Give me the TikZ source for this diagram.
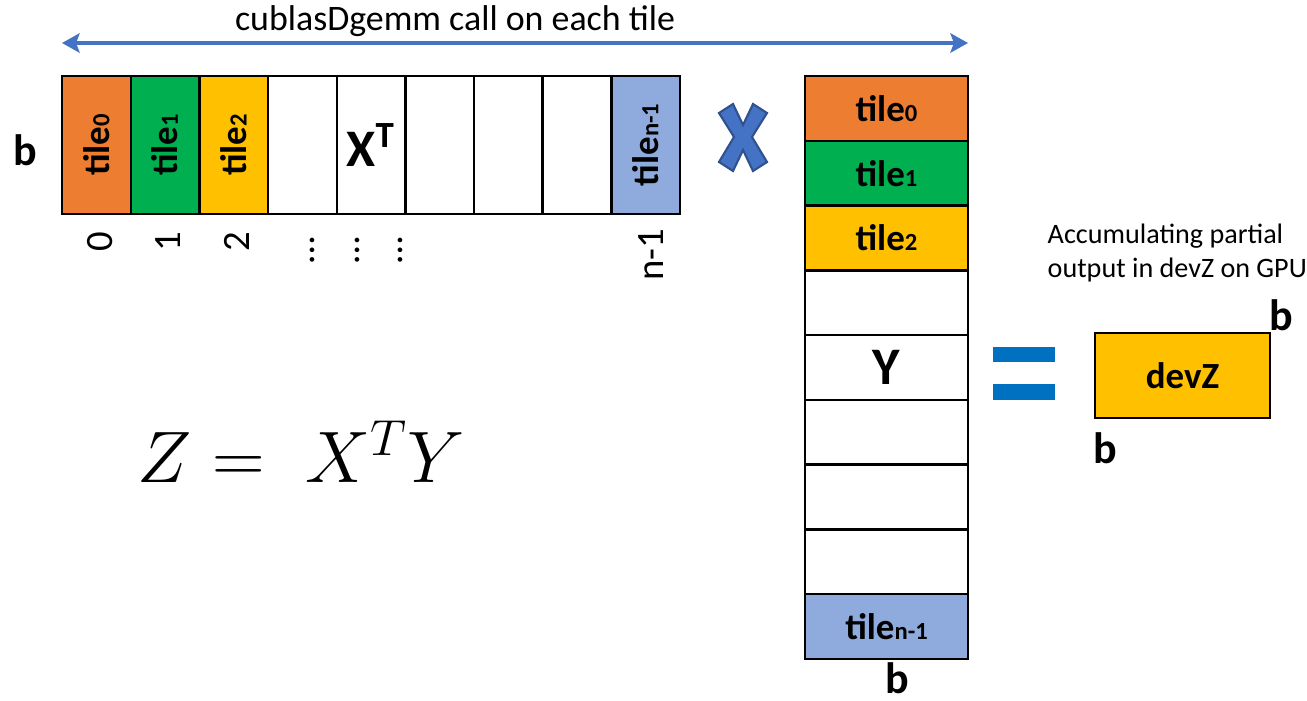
\documentclass[tikz,border=0pt]{standalone}
\usepackage{fontspec}
\setmainfont{Carlito}
\usetikzlibrary{arrows.meta,positioning}

\definecolor{tileorange}{HTML}{ED7D31}
\definecolor{tilegreen}{HTML}{00B050}
\definecolor{tilegold}{HTML}{FFC000}
\definecolor{tileblue}{HTML}{8FAADC}
\definecolor{arrowblue}{HTML}{4472C4}
\definecolor{crossedge}{HTML}{2F528F}
\definecolor{eqblue}{HTML}{0070C0}

% small tile index sitting on the baseline
\newcommand{\tidx}[1]{{\fontsize{7}{8}\selectfont #1}}

\begin{document}
\begin{tikzpicture}[x=0.01cm,y=-0.01cm,
  colcell/.style={draw,line width=0.7pt,minimum width=0.686cm,minimum height=1.38cm,
    inner sep=0pt,outer sep=0pt},
  rowcell/.style={draw,line width=0.7pt,minimum width=1.63cm,minimum height=0.647cm,
    inner sep=0pt,outer sep=0pt},
  tilefont/.style={font=\fontsize{10.5}{12}\selectfont\bfseries},
  bigfont/.style={font=\fontsize{15}{18}\selectfont\bfseries},
  sizelab/.style={font=\fontsize{12.5}{15}\selectfont\bfseries,inner sep=0pt},
  idxlab/.style={font=\fontsize{11}{13}\selectfont,rotate=90,inner sep=0pt},
  node distance=0pt,>={Stealth[length=5pt,width=5.5pt,inset=1pt]}]
\useasboundingbox (0,0) rectangle (1307,700);

% span of the tile loop
\coordinate (spanL) at (62,43);
\coordinate (spanR) at (968,43);
\draw[<->,draw=arrowblue,line width=1.3pt] (spanL) -- (spanR);
\node[font=\fontsize{10.2}{12}\selectfont] (calltxt) at (455,21) {cublasDgemm call on each tile};

% X^T split into column tiles
\node[colcell,fill=tileorange,tilefont] (xt0) at (96.5,145) {\rotatebox{90}{tile\tidx{0}}};
\node[colcell,fill=tilegreen,tilefont,right=of xt0] (xt1) {\rotatebox{90}{tile\tidx{1}}};
\node[colcell,fill=tilegold,tilefont,right=of xt1] (xt2) {\rotatebox{90}{tile\tidx{2}}};
\node[colcell,right=of xt2] (xt3) {};
\node[colcell,bigfont,right=of xt3] (xt4) {X\textsuperscript{T}};
\node[colcell,right=of xt4] (xt5) {};
\node[colcell,right=of xt5] (xt6) {};
\node[colcell,right=of xt6] (xt7) {};
\node[colcell,fill=tileblue,tilefont,right=of xt7] (xt8) {\rotatebox{90}{tile\tidx{n-1}}};
\node[sizelab] (bx) at (25,150) {b};

% tile indices
\node[idxlab] (i0) at (100,242) {0};
\node[idxlab] (i1) at (168,242) {1};
\node[idxlab] (i2) at (237,242) {2};
\node[idxlab] (d0) at (312,250) {…};
\node[idxlab] (d1) at (357,250) {…};
\node[idxlab] (d2) at (400,250) {…};
\node[idxlab] (i8) at (651,255) {n-1};

% multiplication sign
\filldraw[fill=arrowblue,draw=crossedge,line width=0.6pt]
  (719,113) -- (733,104) -- (743,125) -- (753,104) -- (767,113) -- (752,137)
  -- (767,162) -- (753,171) -- (743,150) -- (733,171) -- (719,162) -- (734,137) -- cycle;

% Y split into row tiles
\node[rowcell,fill=tileorange,tilefont] (yt0) at (886.5,108.5) {tile\tidx{0}};
\node[rowcell,fill=tilegreen,tilefont,below=of yt0] (yt1) {tile\tidx{1}};
\node[rowcell,fill=tilegold,tilefont,below=of yt1] (yt2) {tile\tidx{2}};
\node[rowcell,below=of yt2] (yt3) {};
\node[rowcell,bigfont,below=of yt3] (yt4) {Y};
\node[rowcell,below=of yt4] (yt5) {};
\node[rowcell,below=of yt5] (yt6) {};
\node[rowcell,below=of yt6] (yt7) {};
\node[rowcell,fill=tileblue,tilefont,below=of yt7] (yt8) {tile\tidx{n-1}};
\node[sizelab] (by) at (897,678) {b};

% equals sign
\fill[eqblue] (993,347) rectangle (1055,362);
\fill[eqblue] (993,384) rectangle (1055,400);

% result block
\node[draw,line width=0.7pt,fill=tilegold,minimum width=1.75cm,minimum height=0.85cm,
  tilefont] (devz) at (1182.5,375.5) {devZ};
\node[sizelab] (bz1) at (1281,315) {b};
\node[sizelab] (bz2) at (1105,448) {b};
\node[font=\fontsize{8}{9.4}\selectfont,align=left,anchor=west,inner sep=0pt] (acc)
  at (1047,253) {Accumulating partial\\output in devZ on GPU};

% product formula
\node[anchor=base west,inner sep=0pt,font=\fontsize{22.5}{27}\selectfont] (eqn)
  at (137,482) {$Z =\; X^{T}Y$};
\end{tikzpicture}
\end{document}
